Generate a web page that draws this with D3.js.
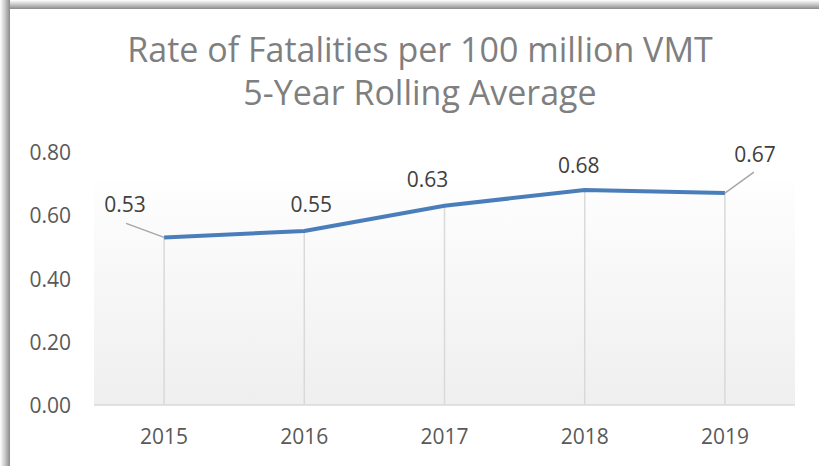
<!DOCTYPE html>
<html lang="en">
<head>
  <meta charset="UTF-8">
  <title>Rate of Fatalities per 100 million VMT</title>
  <script src="https://d3js.org/d3.v7.min.js"></script>
  <style>
    body { margin: 0; background: #fff; }
    text { font-family: "Open Sans", "Noto Sans", sans-serif; }
  </style>
</head>
<body>
  <script>
    const years = ['2015', '2016', '2017', '2018', '2019'];
    const rates = [0.53, 0.55, 0.63, 0.68, 0.67];
    const yTicks = [0, 0.2, 0.4, 0.6, 0.8];
    const titleLines = ['Rate of Fatalities per 100 million VMT', '5-Year Rolling Average'];

    const w = 819;
    const h = 466;
    const plotLeft = 94, plotRight = 795, plotTop = 152, plotBottom = 405;

    const svg = d3.select('body')
      .append('svg')
      .attr('width', w)
      .attr('height', h);

    const defs = svg.append('defs');
    const sh = defs.append('linearGradient').attr('id', 'shL').attr('x1', 0).attr('x2', 1).attr('y1', 0).attr('y2', 0);
    sh.append('stop').attr('offset', 0).attr('stop-color', '#ffffff');
    sh.append('stop').attr('offset', 0.5).attr('stop-color', '#c8c8c8');
    sh.append('stop').attr('offset', 1).attr('stop-color', '#8a8a8a');
    const shT = defs.append('linearGradient').attr('id', 'shT').attr('x1', 0).attr('x2', 0).attr('y1', 0).attr('y2', 1);
    shT.append('stop').attr('offset', 0).attr('stop-color', '#ffffff');
    shT.append('stop').attr('offset', 0.5).attr('stop-color', '#c8c8c8');
    shT.append('stop').attr('offset', 1).attr('stop-color', '#8a8a8a');
    const bg = defs.append('linearGradient').attr('id', 'bg').attr('x1', 0).attr('x2', 0).attr('y1', 0).attr('y2', 1);
    bg.append('stop').attr('offset', 0).attr('stop-color', '#fefefe');
    bg.append('stop').attr('offset', 1).attr('stop-color', '#efefef');

    // frame shadow (left and top)
    svg.append('rect').attr('x', 0).attr('y', 0).attr('width', 10).attr('height', h).attr('fill', 'url(#shL)');
    svg.append('rect').attr('x', 10).attr('y', 0).attr('width', w - 10).attr('height', 9).attr('fill', 'url(#shT)');

    // title
    svg.selectAll('.title')
      .data(titleLines)
      .enter()
      .append('text')
      .attr('class', 'title')
      .attr('x', 420)
      .attr('y', (d, i) => 62 + i * 43)
      .attr('text-anchor', 'middle')
      .attr('font-size', 34)
      .attr('fill', '#7f7f7f')
      .text(d => d);

    const xScale = d3.scaleBand()
      .domain(years)
      .range([plotLeft, plotRight]);

    const yScale = d3.scaleLinear()
      .domain([0, 0.8])
      .range([plotBottom, plotTop]);

    // plot area background
    svg.append('rect')
      .attr('x', plotLeft)
      .attr('y', 182)
      .attr('width', plotRight - plotLeft)
      .attr('height', plotBottom - 182)
      .attr('fill', 'url(#bg)');

    const cx = d => xScale(d) + xScale.bandwidth() / 2;

    // drop lines
    svg.selectAll('.drop')
      .data(years)
      .enter()
      .append('line')
      .attr('x1', d => cx(d))
      .attr('x2', d => cx(d))
      .attr('y1', (d, i) => yScale(rates[i]))
      .attr('y2', plotBottom)
      .attr('stroke', '#d9d9d9')
      .attr('stroke-width', 1.5);

    // x axis line
    svg.append('line')
      .attr('x1', plotLeft).attr('x2', plotRight)
      .attr('y1', plotBottom).attr('y2', plotBottom)
      .attr('stroke', '#d9d9d9')
      .attr('stroke-width', 1.5);

    // y labels
    svg.selectAll('.ytick')
      .data(yTicks)
      .enter()
      .append('text')
      .attr('x', 71)
      .attr('y', d => yScale(d) + 8)
      .attr('text-anchor', 'end')
      .attr('font-size', 21)
      .attr('fill', '#595959')
      .text(d => d3.format('.2f')(d));

    // x labels
    svg.selectAll('.xtick')
      .data(years)
      .enter()
      .append('text')
      .attr('x', d => cx(d))
      .attr('y', 444)
      .attr('text-anchor', 'middle')
      .attr('font-size', 21)
      .attr('fill', '#595959')
      .text(d => d);

    // line
    const line = d3.line()
      .x((d, i) => cx(years[i]))
      .y(d => yScale(d));

    svg.append('path')
      .datum(rates)
      .attr('d', line)
      .attr('fill', 'none')
      .attr('stroke', '#4a7ebb')
      .attr('stroke-width', 4)
      .attr('stroke-linejoin', 'round');

    // data labels, offsets relative to point
    const labelOff = [[-39, -25], [7, -19], [-17, -19], [-6, -17], [30, -31]];
    svg.selectAll('.dl')
      .data(rates)
      .enter()
      .append('text')
      .attr('x', (d, i) => cx(years[i]) + labelOff[i][0])
      .attr('y', (d, i) => yScale(d) + labelOff[i][1])
      .attr('text-anchor', 'middle')
      .attr('font-size', 21)
      .attr('fill', '#404040')
      .text(d => d3.format('.2f')(d));

    // leader lines for 2015 and 2019
    const leaders = [[0, -38, -14], [4, 29, -21]];
    svg.selectAll('.leader')
      .data(leaders)
      .enter()
      .append('line')
      .attr('x1', d => cx(years[d[0]]))
      .attr('y1', d => yScale(rates[d[0]]))
      .attr('x2', d => cx(years[d[0]]) + d[1])
      .attr('y2', d => yScale(rates[d[0]]) + d[2])
      .attr('stroke', '#a6a6a6')
      .attr('stroke-width', 1.5);
  </script>
</body>
</html>
